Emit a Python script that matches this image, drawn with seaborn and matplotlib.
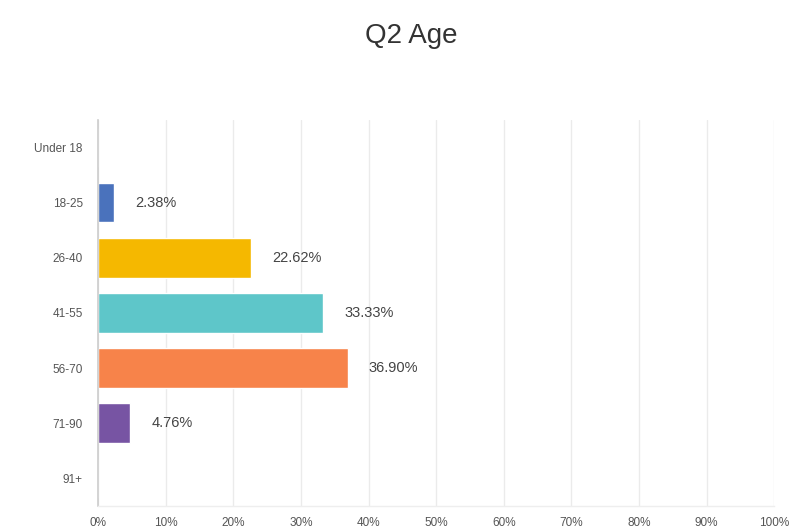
import matplotlib
matplotlib.use("Agg")
import matplotlib.pyplot as plt
from matplotlib.ticker import FuncFormatter
import seaborn as sns
import pandas as pd

categories = ["Under 18", "18-25", "26-40", "41-55", "56-70", "71-90", "91+"]
values = [0.0, 2.38, 22.62, 33.33, 36.90, 4.76, 0.0]
labels = ["", "2.38%", "22.62%", "33.33%", "36.90%", "4.76%", ""]
colors = ["#4472c4", "#4a72bc", "#f5b800", "#5ec6c9", "#f7834a", "#7754a3", "#999999"]
xticks = [0, 10, 20, 30, 40, 50, 60, 70, 80, 90, 100]

sns.set_theme(style="white")
plt.rcParams["font.family"] = ["Liberation Sans", "DejaVu Sans"]

df = pd.DataFrame({"category": categories, "value": values})

fig = plt.figure(figsize=(7.91, 5.30), dpi=100)
ax = fig.add_axes([0.1239, 0.045, 0.855, 0.729])

sns.barplot(data=df, y="category", x="value", hue="category", palette=colors,
            order=categories, legend=False, width=0.72, ax=ax, saturation=1)

ax.set_xlim(0, 100)
ax.set_ylim(6.5, -0.5)
ax.set_xticks(xticks)
ax.xaxis.set_major_formatter(FuncFormatter(lambda v, p: f"{int(v)}%"))
ax.grid(axis="x", color="#ebebeb", linewidth=1)
ax.set_axisbelow(True)
for s in ["top", "right"]:
    ax.spines[s].set_visible(False)
ax.spines["bottom"].set_color("#eeeeee")
ax.spines["bottom"].set_linewidth(1.0)
ax.spines["left"].set_color("#cccccc")
ax.spines["left"].set_linewidth(1.2)
ax.set_xlabel("")
ax.set_ylabel("")
ax.tick_params(axis="x", labelsize=8.5, colors="#555555", pad=8, length=0)
ax.tick_params(axis="y", labelsize=8.5, colors="#555555", pad=11, length=0)

for i, (v, lab) in enumerate(zip(values, labels)):
    if lab:
        ax.text(v + 3.1, i, lab, va="center", ha="left", fontsize=10.5, color="#444444")

fig.text(0.52, 0.932, "Q2 Age", ha="center", va="center", fontsize=20, color="#333333")

fig.savefig("out.png", dpi=100)
